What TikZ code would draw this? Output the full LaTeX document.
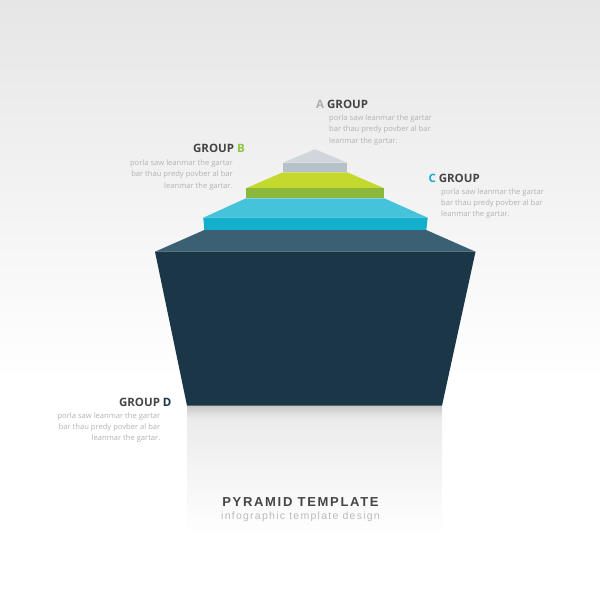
\documentclass[tikz,border=0pt]{standalone}
\usepackage{fontspec}
\setmainfont{Open Sans}
\newfontfamily\titlefont[LetterSpace=13]{Liberation Sans}
\newfontfamily\subfont[LetterSpace=12]{Liberation Sans}
\definecolor{bgtop}{HTML}{E6E6E6}
\definecolor{graytop}{HTML}{D0D6DB}
\definecolor{grayfront}{HTML}{B7C1CA}
\definecolor{greentop}{HTML}{C5D82E}
\definecolor{greenfront}{HTML}{8BB83A}
\definecolor{bluetop}{HTML}{45C3DA}
\definecolor{bluefront}{HTML}{14AFCC}
\definecolor{darktop}{HTML}{3B6073}
\definecolor{darkfront}{HTML}{1B3747}
\definecolor{headgray}{HTML}{454545}
\definecolor{bodygray}{HTML}{B3B3B3}
\definecolor{agray}{HTML}{A9AEB3}
\definecolor{bgreen}{HTML}{8DC63F}
\definecolor{cblue}{HTML}{1AA9CB}
\definecolor{ddark}{HTML}{1B3646}
\definecolor{titlegray}{HTML}{454545}
\definecolor{subgray}{HTML}{BBBBBB}
\definecolor{refltop}{HTML}{C8C8C8}
\definecolor{reflmid}{HTML}{EBEBEB}
\tikzset{
  head/.style={font=\fontsize{11.5}{12}\selectfont\bfseries, text=headgray, inner sep=0pt},
  body/.style={font=\fontsize{7.6}{11.3}\selectfont, text=bodygray, inner sep=0pt},
}
\begin{document}
\begin{tikzpicture}[x=1pt,y=-1pt]
\useasboundingbox (0,0) rectangle (600,600);
% background
\fill[white] (0,0) rectangle (600,600);
\shade[top color=bgtop, bottom color=white] (0,0) rectangle (600,380);
% reflection
\shade[top color=refltop, bottom color=reflmid] (187,405.7) rectangle (442,418);
\shade[top color=reflmid, bottom color=white] (187,418) rectangle (442,535);
% pyramid: A (gray)
\fill[graytop] (282.7,162.7) -- (315,149.3) -- (347.3,162.7) -- cycle;
\fill[grayfront] (282.7,162.7) rectangle (347.3,172.3);
% B (green)
\fill[greentop] (282.7,172.3) -- (347.3,172.3) -- (384.3,188.3) -- (246,188.3) -- cycle;
\fill[greenfront] (246,188.3) rectangle (384.3,198.3);
% C (blue)
\fill[bluetop] (246,198.3) -- (384.3,198.3) -- (427.7,217.7) -- (203.3,217.7) -- cycle;
\fill[bluefront] (203.3,217.7) -- (427.7,217.7) -- (426.3,230) -- (204.3,230) -- cycle;
% D (dark)
\fill[darktop] (204.3,230) -- (426.3,230) -- (475.5,251.7) -- (155,251.7) -- cycle;
\fill[darkfront] (155,251.7) -- (475.5,251.7) -- (442,405.7) -- (187,405.7) -- cycle;
% texts
\node[head, anchor=base west] (ah) at (316,108) {\textcolor{agray}{A} GROUP};
\node[body, anchor=base west] (ab) at (329,120.5) {\begin{tabular}[t]{@{}l@{}}porla saw leanmar the gartar\\bar thau predy povber al bar\\leanmar the gartar.\end{tabular}};
\node[head, anchor=base east] (bh) at (245,152) {GROUP \textcolor{bgreen}{B}};
\node[body, anchor=base east] (bb) at (233,165.5) {\begin{tabular}[t]{@{}r@{}}porla saw leanmar the gartar\\bar thau predy povber al bar\\leanmar the gartar.\end{tabular}};
\node[head, anchor=base west] (ch) at (428.3,182) {\textcolor{cblue}{C} GROUP};
\node[body, anchor=base west] (cb) at (441,194) {\begin{tabular}[t]{@{}l@{}}porla saw leanmar the gartar\\bar thau predy povber al bar\\leanmar the gartar.\end{tabular}};
\node[head, anchor=base east] (dh) at (171.7,406) {GROUP \textcolor{ddark}{D}};
\node[body, anchor=base east] (db) at (160.5,418) {\begin{tabular}[t]{@{}r@{}}porla saw leanmar the gartar\\bar thau predy povber al bar\\leanmar the gartar.\end{tabular}};
\node[inner sep=0pt, anchor=base, text=titlegray, font=\titlefont\fontsize{13}{14}\selectfont\bfseries] (title) at (300.5,506.7) {PYRAMID TEMPLATE};
\node[inner sep=0pt, anchor=base, text=subgray, font=\subfont\fontsize{10.5}{11}\selectfont] (sub) at (300.5,519.5) {infographic template design};
\end{tikzpicture}
\end{document}
